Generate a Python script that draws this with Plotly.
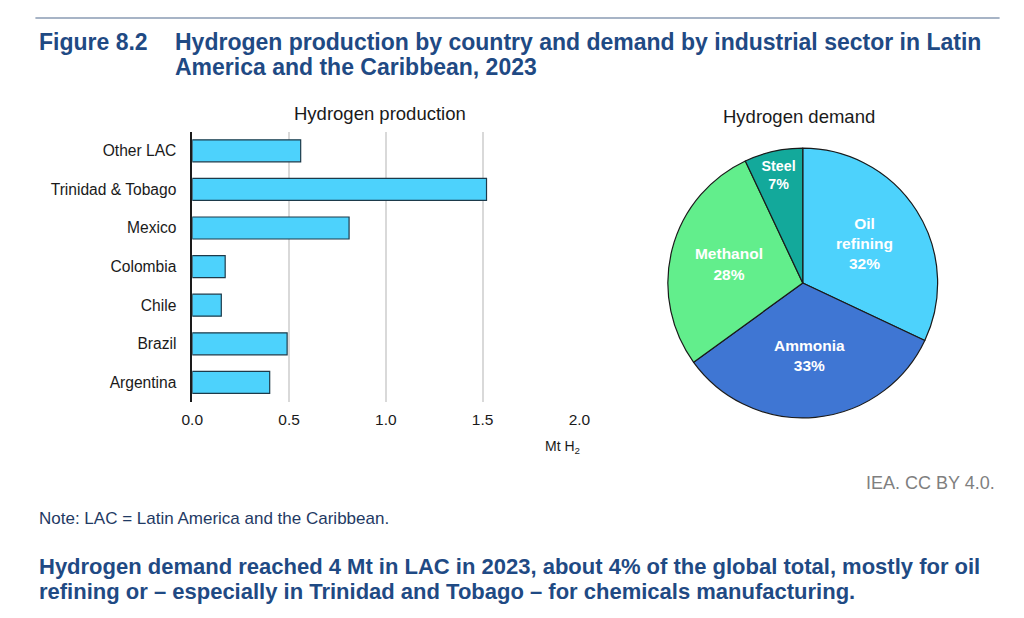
import plotly.graph_objects as go

# ---- data ----
countries = ["Argentina", "Brazil", "Chile", "Colombia", "Mexico", "Trinidad & Tobago", "Other LAC"]
production = [0.40, 0.49, 0.15, 0.17, 0.81, 1.52, 0.56]

sectors = ["Oil refining", "Ammonia", "Methanol", "Steel"]
sector_text = ["Oil<br>refining", "Ammonia", "Methanol", "Steel"]
demand_share = [32, 33, 28, 7]
sector_colors = ["#4dd2fc", "#3f76d3", "#62ee8c", "#13a99b"]

x_ticks = [0.0, 0.5, 1.0, 1.5, 2.0]

# figure sized so that page (with 8px body margin) fits the 1024x618 window
OFF = 8
W, H = 1024 - 2 * OFF, 618 - 2 * OFF
SQ = 0.979  # horizontal squeeze observed in the captured page (about its centre)

def px(x):
    p = 512 + (x - 512) / SQ
    return (p - OFF) / W

def py(y):
    return 1 - (y - OFF) / H

FONT = "Liberation Sans, Arial, sans-serif"
TITLE_BLUE = "#1f4a84"

fig = go.Figure()

fig.add_trace(go.Bar(
    y=countries, x=production, orientation="h",
    marker=dict(color="#4dd2fc", line=dict(color="#1d3a4a", width=1.2)),
    width=0.57, xaxis="x", yaxis="y", showlegend=False,
))

fig.add_trace(go.Pie(
    labels=sectors, values=demand_share, text=sector_text,
    sort=False, direction="clockwise", rotation=0,
    marker=dict(colors=sector_colors, line=dict(color="#1a1a1a", width=1.2)),
    texttemplate="<b>%{text}<br>%{percent:.0%}</b>",
    textposition="inside", insidetextorientation="horizontal",
    insidetextfont=dict(color="white", size=15.5, family=FONT),
    domain=dict(x=[px(668), px(938)], y=[py(418), py(148)]),
    showlegend=False, hoverinfo="label+percent",
))

fig.update_layout(
    width=W, height=H,
    margin=dict(l=0, r=0, t=0, b=0),
    paper_bgcolor="white", plot_bgcolor="white",
    font=dict(family=FONT, size=16, color="#1a1a1a"),
    xaxis=dict(
        domain=[px(192), px(579.5)], range=[0, 2.0],
        tickvals=x_ticks, ticktext=[f"{v:.1f}" for v in x_ticks],
        showgrid=True, gridcolor="#d9d9d9", gridwidth=1.5,
        zeroline=False, showline=False, ticks="",
        ticklabelstandoff=7, tickfont=dict(size=15.5, color="#1a1a1a"),
        fixedrange=True,
    ),
    yaxis=dict(
        domain=[py(401.7), py(131.5)], range=[-0.5, 6.5],
        categoryorder="array", categoryarray=countries,
        showgrid=False, zeroline=False,
        showline=True, linecolor="#1a1a1a", linewidth=1.5,
        ticks="", ticklabelstandoff=11, tickfont=dict(size=15.6, color="#1a1a1a"),
        fixedrange=True,
    ),
    shapes=[
        dict(type="line", xref="paper", yref="paper",
             x0=px(35), x1=px(1000), y0=py(18), y1=py(18),
             line=dict(color="#8a9bb3", width=1.5)),
    ],
)

ann = [
    dict(text="<b>Figure 8.2</b>", x=px(37), y=py(42), xanchor="left", yanchor="middle",
         font=dict(size=23, color=TITLE_BLUE)),
    dict(text="<b>Hydrogen production by country and demand by industrial sector in Latin</b>",
         x=px(173), y=py(42), xanchor="left", yanchor="middle",
         font=dict(size=23, color=TITLE_BLUE)),
    dict(text="<b>America and the Caribbean, 2023</b>",
         x=px(173), y=py(67), xanchor="left", yanchor="middle",
         font=dict(size=23, color=TITLE_BLUE)),
    dict(text="Hydrogen production", x=px(380), y=py(114), xanchor="center", yanchor="middle",
         font=dict(size=18.5, color="#1a1a1a")),
    dict(text="Hydrogen demand", x=px(799), y=py(116), xanchor="center", yanchor="middle",
         font=dict(size=18.5, color="#1a1a1a")),
    dict(text="Mt H<sub>2</sub>", x=px(563), y=py(447), xanchor="center", yanchor="middle",
         font=dict(size=14, color="#1a1a1a")),
    dict(text="IEA. CC BY 4.0.", x=px(997), y=py(483), xanchor="right", yanchor="middle",
         font=dict(size=18, color="#7f7f7f")),
    dict(text="Note: LAC = Latin America and the Caribbean.", x=px(37), y=py(518),
         xanchor="left", yanchor="middle", font=dict(size=17, color="#1f3a64")),
    dict(text="<b>Hydrogen demand reached 4 Mt in LAC in 2023, about 4% of the global total, mostly for oil</b>",
         x=px(37), y=py(566), xanchor="left", yanchor="middle",
         font=dict(size=22, color=TITLE_BLUE)),
    dict(text="<b>refining or – especially in Trinidad and Tobago – for chemicals manufacturing.</b>",
         x=px(37), y=py(591), xanchor="left", yanchor="middle",
         font=dict(size=22, color=TITLE_BLUE)),
]
for a in ann:
    a.update(xref="paper", yref="paper", showarrow=False)
fig.update_layout(annotations=ann)

fig.write_html("out.html")
